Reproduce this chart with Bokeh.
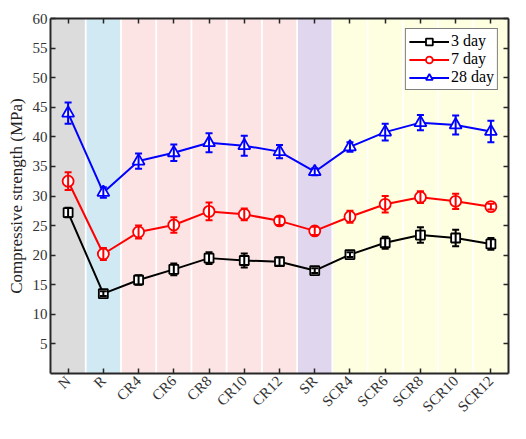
import math
from bokeh.plotting import figure
from bokeh.models import (FactorRange, Range1d, FixedTicker, LinearAxis, CategoricalAxis,
                          ColumnDataSource, Whisker, Legend, LegendItem, TeeHead)
from bokeh.embed import file_html
from bokeh.resources import INLINE

categories = ["N", "R", "CR4", "CR6", "CR8", "CR10", "CR12", "SR",
              "SCR4", "SCR6", "SCR8", "SCR10", "SCR12"]
band_colors = ["#dcdcdc", "#d0e9f2", "#fde4e4", "#fde4e4", "#fde4e4", "#fde4e4", "#fde4e4",
               "#e0d6ee", "#fefee0", "#fefee0", "#fefee0", "#fefee0", "#fefee0"]

day3 = [27.2, 13.5, 15.8, 17.6, 19.5, 19.1, 18.9, 17.4, 20.1, 22.1, 23.4, 22.9, 21.9]
day3_err = [0.8, 0.4, 0.8, 1.0, 1.0, 1.2, 0.7, 0.4, 0.4, 1.0, 1.3, 1.4, 1.0]
day7 = [32.5, 20.2, 23.9, 25.1, 27.4, 26.9, 25.8, 24.1, 26.5, 28.6, 29.8, 29.1, 28.2]
day7_err = [1.5, 1.0, 1.1, 1.3, 1.5, 1.0, 0.7, 0.7, 1.0, 1.4, 1.0, 1.3, 0.5]
day28 = [44.0, 30.6, 35.9, 37.3, 39.0, 38.5, 37.5, 34.1, 38.3, 40.8, 42.4, 42.0, 40.9]
day28_err = [1.8, 0.9, 1.3, 1.4, 1.6, 1.7, 1.1, 0.6, 0.8, 1.4, 1.3, 1.6, 1.8]

y_ticks = [5, 10, 15, 20, 25, 30, 35, 40, 45, 50, 55, 60]
series_names = ["3 day", "7 day", "28 day"]
series_colors = ["black", "red", "blue"]
series_markers = ["square", "circle", "triangle"]

FONT = "Liberation Serif"
AX = "#262626"

p = figure(width=510, height=423, x_range=FactorRange(*categories, range_padding=0),
           y_range=Range1d(0, 60), output_backend="svg", toolbar_location=None,
           min_border_top=18, min_border_right=2, min_border_bottom=40, min_border_left=50)
p.xgrid.visible = False
p.ygrid.visible = False
p.outline_line_color = None
p.background_fill_color = "white"

p.vbar(x=categories, top=60, bottom=0, width=0.95, fill_color=band_colors, line_color=None)

items = []
for i, (vals, errs) in enumerate([(day3, day3_err), (day7, day7_err), (day28, day28_err)]):
    src = ColumnDataSource(dict(x=categories, y=vals,
                                lo=[v - e for v, e in zip(vals, errs)],
                                hi=[v + e for v, e in zip(vals, errs)]))
    c = series_colors[i]
    ln = p.line("x", "y", source=src, line_color=c, line_width=2)
    sz = [9, 11, 12][i]
    sc = p.scatter("x", "y", source=src, marker=series_markers[i], size=sz,
                   fill_color="white", line_color=c, line_width=1.8)
    w = Whisker(source=src, base="x", upper="hi", lower="lo", line_color=c, line_width=2,
                level="overlay",
                upper_head=TeeHead(size=7, line_color=c, line_width=2),
                lower_head=TeeHead(size=7, line_color=c, line_width=2))
    p.add_layout(w)
    items.append(LegendItem(label=series_names[i], renderers=[ln, sc]))

legend = Legend(items=items, location="top_right", margin=10,
                label_text_font=FONT, label_text_font_size="16px", label_text_color="black",
                border_line_color="black", border_line_width=1.5, background_fill_alpha=1,
                background_fill_color="white", padding=3, spacing=0, glyph_width=40,
                glyph_height=17, label_height=17, label_standoff=2)
p.add_layout(legend)

for ax in [p.xaxis[0], p.yaxis[0]]:
    ax.axis_line_color = AX
    ax.axis_line_width = 2
    ax.major_tick_line_color = AX
    ax.major_tick_line_width = 1.5
    ax.major_tick_in = 5
    ax.major_tick_out = 0
    ax.minor_tick_line_color = None
    ax.major_label_text_font = FONT
    ax.major_label_text_font_size = "15px"
    ax.major_label_text_color = "#333333"

p.yaxis[0].ticker = FixedTicker(ticks=y_ticks)
p.yaxis[0].axis_label = "Compressive strength (MPa)"
p.yaxis[0].axis_label_text_font = FONT
p.yaxis[0].axis_label_text_font_style = "normal"
p.yaxis[0].axis_label_text_font_size = "17px"
p.yaxis[0].axis_label_text_color = "#222222"
p.yaxis[0].axis_label_standoff = 4
p.yaxis[0].major_label_standoff = 3
p.xaxis[0].major_label_orientation = math.pi / 4
p.xaxis[0].major_label_standoff = 5

top = CategoricalAxis(axis_line_color=AX, axis_line_width=2, major_tick_line_color=AX,
                      major_tick_line_width=1.5, major_tick_in=5, major_tick_out=0,
                      major_label_text_color=None, major_label_standoff=0,
                      minor_tick_line_color=None)
p.add_layout(top, "above")
right = LinearAxis(ticker=FixedTicker(ticks=y_ticks), axis_line_color=AX, axis_line_width=2,
                   major_tick_line_color=AX, major_tick_line_width=1.5, major_tick_in=5,
                   major_tick_out=0, major_label_text_color=None, major_label_standoff=0,
                   minor_tick_line_color=None)
p.add_layout(right, "right")

open("out.html", "w").write(file_html(p, INLINE))
